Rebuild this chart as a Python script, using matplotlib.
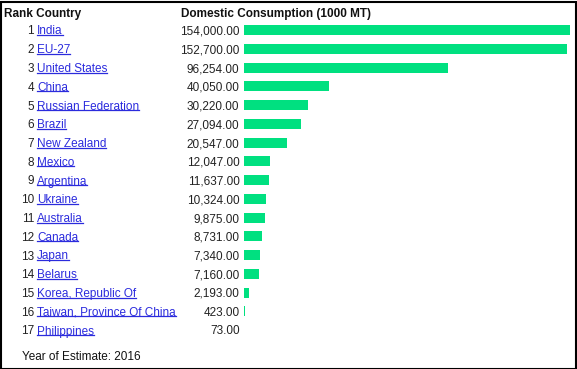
import matplotlib
matplotlib.use("Agg")
import matplotlib.pyplot as plt
from matplotlib.lines import Line2D
from matplotlib.patches import Rectangle

# Data
ranks = list(range(1, 18))
countries = ["India", "EU-27", "United States", "China", "Russian Federation",
             "Brazil", "New Zealand", "Mexico", "Argentina", "Ukraine",
             "Australia", "Canada", "Japan", "Belarus", "Korea, Republic Of",
             "Taiwan, Province Of China", "Philippines"]
consumption = [154000, 152700, 96254, 40050, 30220, 27094, 20547, 12047,
               11637, 10324, 9875, 8731, 7340, 7160, 2193, 423, 73]

W, H = 577, 369
plt.rcParams["font.family"] = ["Liberation Sans", "DejaVu Sans"]
fig = plt.figure(figsize=(W / 100, H / 100), dpi=100)

# rows: row i sits at pixel y = 30 + i*18.75
row0, step = 30, 18.75
ytop = -row0 / step
ybot = (H - row0) / step

ax = fig.add_axes([244 / W, 0, 326 / W, 1])
ax.barh(range(len(consumption)), consumption, height=10 / step,
        color="#00e080", edgecolor="none")
ax.set_xlim(0, 154000)
ax.set_ylim(ybot, ytop)
ax.axis("off")

fs = 8.5
link_col = "#2b2bdd"


def fx(x):
    return x / W


def fy(y):
    return 1 - y / H


link_texts = []
for i, (r, c, v) in enumerate(zip(ranks, countries, consumption)):
    y = row0 + i * step
    fig.text(fx(34), fy(y), str(r), ha="right", va="center_baseline",
             fontsize=fs, color="#222222")
    t = fig.text(fx(37), fy(y), c, ha="left", va="center_baseline",
                 fontsize=fs, color=link_col)
    link_texts.append(t)
    fig.text(fx(239.5), fy(y), f"{v:,.2f}", ha="right",
             va="center_baseline", fontsize=fs, color="#222222")

fig.text(fx(4), fy(12), "Rank Country", ha="left", va="center_baseline",
         fontsize=fs, fontweight="bold", color="#111111")
fig.text(fx(181), fy(12), "Domestic Consumption (1000 MT)", ha="left",
         va="center_baseline", fontsize=fs, fontweight="bold", color="#111111")
fig.text(fx(22), fy(355), "Year of Estimate: 2016", ha="left",
         va="center_baseline", fontsize=fs, color="#111111")

# underline the country links
fig.canvas.draw()
renderer = fig.canvas.get_renderer()
for t in link_texts:
    bb = t.get_window_extent(renderer)
    yline = (bb.y0 + 2.5) / H
    fig.add_artist(Line2D([bb.x0 / W, bb.x1 / W], [yline, yline],
                          transform=fig.transFigure, color=link_col, lw=0.9))

# border
fig.add_artist(Rectangle((0.5 / W, 0.5 / H), 1 - 2 / W, 1 - 2 / H,
                         transform=fig.transFigure, fill=False,
                         edgecolor="black", lw=1.5))

fig.savefig("out.png", dpi=100)
